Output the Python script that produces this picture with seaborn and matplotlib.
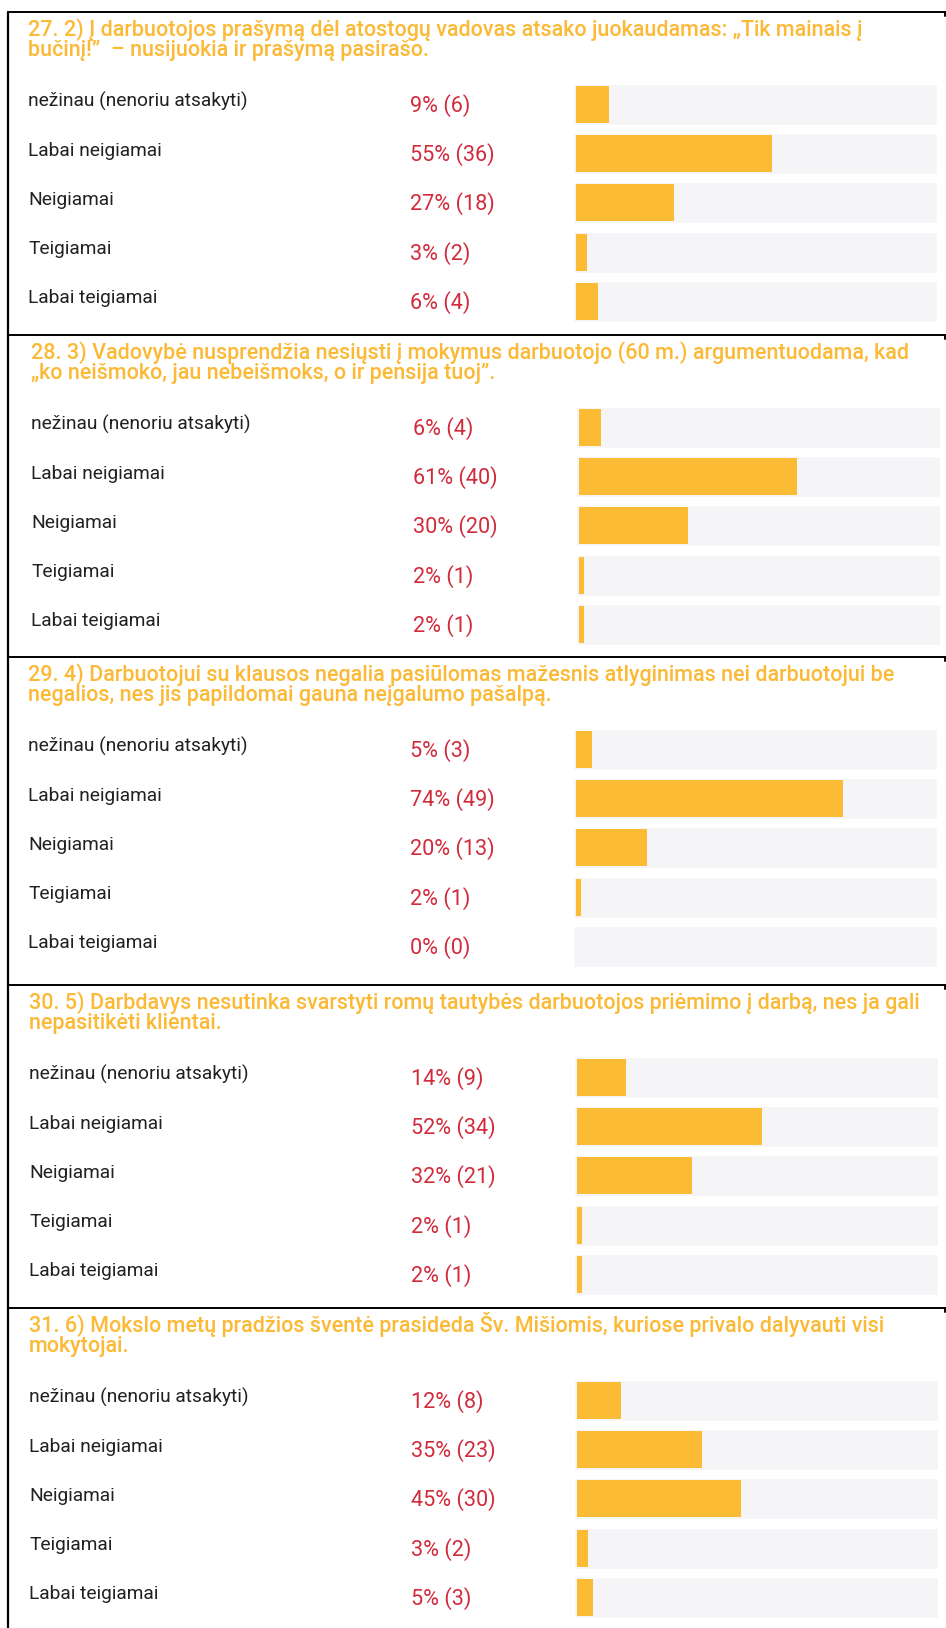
import matplotlib
matplotlib.use("Agg")
import matplotlib.pyplot as plt
import seaborn as sns
import pandas as pd
from matplotlib.lines import Line2D

sns.set_theme(style="white")
plt.rcParams['font.family'] = ['Roboto', 'DejaVu Sans']

categories = ["nežinau (nenoriu atsakyti)", "Labai neigiamai", "Neigiamai",
              "Teigiamai", "Labai teigiamai"]

titles = [
    ["27. 2) Į darbuotojos prašymą dėl atostogų vadovas atsako juokaudamas: „Tik mainais į",
     "bučinį!”  – nusijuokia ir prašymą pasirašo."],
    ["28. 3) Vadovybė nusprendžia nesiųsti į mokymus darbuotojo (60 m.) argumentuodama, kad",
     "„ko neišmoko, jau nebeišmoks, o ir pensija tuoj”."],
    ["29. 4) Darbuotojui su klausos negalia pasiūlomas mažesnis atlyginimas nei darbuotojui be",
     "negalios, nes jis papildomai gauna neįgalumo pašalpą."],
    ["30. 5) Darbdavys nesutinka svarstyti romų tautybės darbuotojos priėmimo į darbą, nes ja gali",
     "nepasitikėti klientai."],
    ["31. 6) Mokslo metų pradžios šventė prasideda Šv. Mišiomis, kuriose privalo dalyvauti visi",
     "mokytojai."],
]

q27_pct = [9, 55, 27, 3, 6]
q27_n = [6, 36, 18, 2, 4]
q28_pct = [6, 61, 30, 2, 2]
q28_n = [4, 40, 20, 1, 1]
q29_pct = [5, 74, 20, 2, 0]
q29_n = [3, 49, 13, 1, 0]
q30_pct = [14, 52, 32, 2, 2]
q30_n = [9, 34, 21, 1, 1]
q31_pct = [12, 35, 45, 3, 5]
q31_n = [8, 23, 30, 2, 3]

panels = [(q27_pct, q27_n), (q28_pct, q28_n), (q29_pct, q29_n),
          (q30_pct, q30_n), (q31_pct, q31_n)]

W, H = 946, 1628
fig = plt.figure(figsize=(W / 100, H / 100), dpi=100)
fig.patch.set_facecolor("white")

TITLE_C = "#FBB935"
PCT_C = "#D12B3C"
LABEL_C = "#212121"
BAR_C = "#FBBB35"
TRACK_C = "#F5F4F7"

panel_tops = [12, 335, 657, 985, 1308]
dxs = [0, 3, 0, 1, 1]
pitch = 49.2

def fx(x):
    return x / W

def fy(y):
    return 1 - y / H

# left border
fig.add_artist(Line2D([fx(8), fx(8)], [fy(12), fy(H + 2)], color="black", lw=1.6))

for i, (pct, n) in enumerate(panels):
    top = panel_tops[i]
    dx = dxs[i]
    fig.add_artist(Line2D([fx(8), fx(W)], [fy(top), fy(top)], color="black", lw=1.4))
    fig.add_artist(Line2D([fx(945), fx(945)], [fy(top), fy(top + 4)], color="black", lw=1.4))

    fig.text(fx(28 + dx), fy(top + 24), titles[i][0], color=TITLE_C, fontsize=15.5,
             fontweight="medium", va="baseline", ha="left")
    fig.text(fx(28 + dx), fy(top + 44), titles[i][1], color=TITLE_C, fontsize=15.5,
             fontweight="medium", va="baseline", ha="left")

    c0 = top + 92.5
    ax_top = c0 - pitch / 2
    ax_h = 5 * pitch
    left = 573 + dx
    width = 364
    ax = fig.add_axes([fx(left), fy(ax_top + ax_h), width / W, ax_h / H])
    total = sum(n)
    df = pd.DataFrame({"cat": categories, "val": [v / total * 100 for v in n]})
    ax.barh(range(5), [101.1] * 5, left=-0.833, height=41 / pitch, color=TRACK_C,
            zorder=0)
    sns.barplot(data=df, x="val", y="cat", orient="h", color=BAR_C, saturation=1,
                width=37 / pitch, linewidth=0, ax=ax, zorder=2)
    ax.set_xlim(-0.833, 100.28)
    ax.set_ylim(4.5, -0.5)
    ax.axis("off")

    for j, cat in enumerate(categories):
        cy = c0 + j * pitch
        fig.text(fx(28 + dx), fy(cy - 3), cat, color=LABEL_C, fontsize=13.8,
                 va="center", ha="left")
        fig.text(fx(410 + dx), fy(cy + 1), f"{pct[j]}% ({n[j]})", color=PCT_C,
                 fontsize=15.6, va="center", ha="left")

fig.savefig("out.png", dpi=100)
